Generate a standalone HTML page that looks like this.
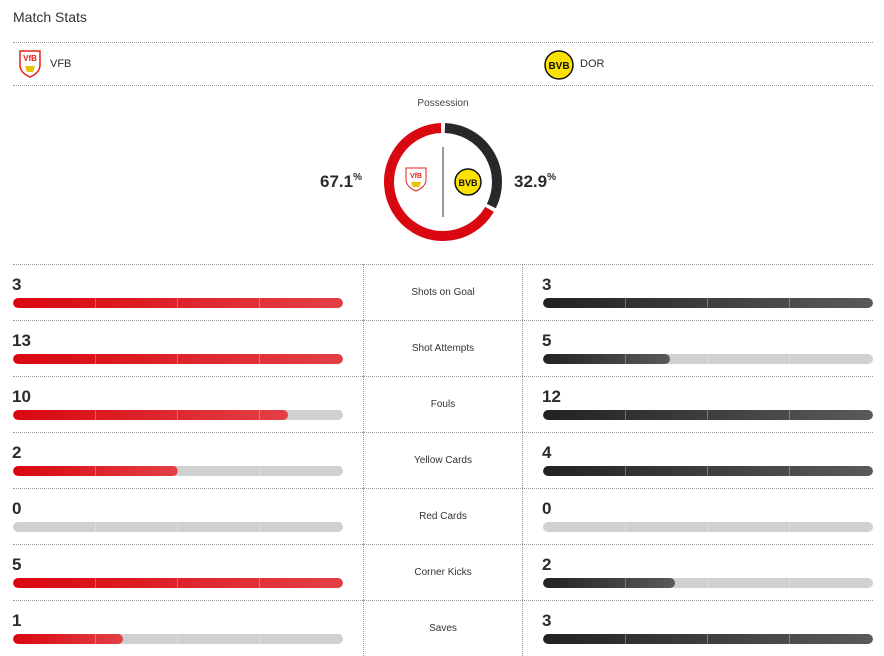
<!DOCTYPE html>
<html><head><meta charset="utf-8">
<style>
body{margin:0;width:884px;height:655px;background:#fff;font-family:"Liberation Sans",sans-serif;color:#2b2b2b;overflow:hidden;position:relative}
.abs{position:absolute}
.hl{position:absolute;left:13px;width:860px;border-top:1px dotted #999;height:0}
.vl{position:absolute;width:0;border-left:1px dotted #999}
.num{position:absolute;font-size:17px;font-weight:bold;color:#2b2b2b}
.lbl{position:absolute;left:363px;width:160px;text-align:center;font-size:10px;color:#333}
.track{position:absolute;height:10px;width:330px;border-radius:5px;background:#d0d0d0;overflow:hidden}
.fill{position:absolute;left:0;top:0;height:10px;border-radius:5px}
.red{background:linear-gradient(90deg,#d9070f,#e24046)}
.blk{background:linear-gradient(90deg,#222,#5a5a5a)}
.seg{position:absolute;top:0;width:1px;height:10px;background:rgba(255,255,255,0.3)}
</style></head><body>
<div class="abs" style="left:13px;top:9px;font-size:14px;color:#333">Match Stats</div>
<div class="hl" style="top:42px"></div>
<svg class="abs" style="left:16px;top:49px" width="28" height="30" viewBox="0 0 28 30"><path d="M4 2h20v14c0 6-5 10-10 12C9 26 4 22 4 16z" fill="#fff" stroke="#e32219" stroke-width="1.5"/><text x="14" y="12" font-size="8" font-weight="bold" fill="#e32219" text-anchor="middle">VfB</text><path d="M9 17h10l-2 6h-6z" fill="#e8c400"/></svg>
<div class="abs" style="left:50px;top:58px;font-size:11px">VFB</div>
<svg class="abs" style="left:544px;top:50px" width="30" height="30"><circle cx="15" cy="15" r="14" fill="#fde100" stroke="#111" stroke-width="1.5"/><text x="15" y="19" font-size="10" font-weight="bold" text-anchor="middle" fill="#111">BVB</text></svg>
<div class="abs" style="left:580px;top:58px;font-size:11px">DOR</div>
<div class="hl" style="top:85px"></div>
<div class="abs" style="left:363px;width:160px;text-align:center;top:98px;font-size:10px;color:#444">Possession</div>
<svg id="donut" class="abs" style="left:0;top:0" width="884" height="260"></svg>
<div class="abs" style="left:320px;top:172px;font-size:17px;font-weight:bold">67.1<span style="font-size:10px;vertical-align:top">%</span></div>
<div class="abs" style="left:514px;top:172px;font-size:17px;font-weight:bold">32.9<span style="font-size:10px;vertical-align:top">%</span></div>
<div id="rows"></div>
<script>
const poss=[67.1,32.9];
const categories=["Shots on Goal","Shot Attempts","Fouls","Yellow Cards","Red Cards","Corner Kicks","Saves"];
const homeValues=[3,13,10,2,0,5,1];
const awayValues=[3,5,12,4,0,2,3];
const svg=document.getElementById('donut');const NS='http://www.w3.org/2000/svg';
const cx=443,cy=182,r=54;
function pt(a){return [cx+r*Math.sin(a),cy-r*Math.cos(a)];}
function arc(a0,a1,col,name){const p0=pt(a0),p1=pt(a1);const large=Math.abs(a1-a0)>Math.PI?1:0;const sw=a1>a0?1:0;
const p=document.createElementNS(NS,'path');p.setAttribute('d',`M${p0[0]} ${p0[1]} A${r} ${r} 0 ${large} ${sw} ${p1[0]} ${p1[1]}`);
p.setAttribute('fill','none');p.setAttribute('stroke',col);p.setAttribute('stroke-width','10');


svg.appendChild(p);}
const tot=poss[0]+poss[1],g=0.035;
const awayA=2*Math.PI*poss[1]/tot;
arc(g,awayA-g,'#282828','away-possession-arc');
arc(-g,awayA-2*Math.PI+g,'#d9070f','home-possession-arc');
const ln=document.createElementNS(NS,'line');ln.setAttribute('x1',443);ln.setAttribute('x2',443);ln.setAttribute('y1',147);ln.setAttribute('y2',217);ln.setAttribute('stroke','#333');


svg.appendChild(ln);
svg.insertAdjacentHTML('beforeend','<g><path d="M406 168h20v12c0 5-5 9-10 11-5-2-10-6-10-11z" fill="#fff" stroke="#e32219"/><text x="416" y="178" font-size="7" font-weight="bold" fill="#e32219" text-anchor="middle">VfB</text><path d="M411 182h10l-2 5h-6z" fill="#e8c400"/></g><g><circle cx="468" cy="182" r="13" fill="#fde100" stroke="#111" stroke-width="1.5"/><text x="468" y="186" font-size="9" font-weight="bold" text-anchor="middle" fill="#111">BVB</text></g>');
const rows=document.getElementById('rows');
const top0=264,rh=56;
function bar(x,y,v,mx,cls,name){const t=document.createElement('div');t.className='track';t.style.left=x+'px';t.style.top=y+'px';


const f=document.createElement('div');f.className='fill '+cls;f.style.width=(mx>0?330*v/mx:0)+'px';


t.appendChild(f);
[82,164,246].forEach(s=>{const d=document.createElement('div');d.className='seg';d.style.left=s+'px';t.appendChild(d);});
rows.appendChild(t);}
function el(cls,name,style,txt){const d=document.createElement('div');d.className=cls;Object.assign(d.style,style);if(txt!==undefined)d.textContent=txt;


rows.appendChild(d);return d;}
categories.forEach((c,i)=>{const y=top0+i*rh;const mx=Math.max(homeValues[i],awayValues[i]);
el('hl','row-divider',{top:y+'px'});
el('vl','column-divider',{left:'363px',top:y+'px',height:rh+'px'});
el('vl','column-divider',{left:'522px',top:y+'px',height:rh+'px'});
const k=c.toLowerCase().replace(/ /g,'-');
el('num','home-'+k+'-value',{left:'12px',top:(y+11)+'px'},homeValues[i]);
el('num','away-'+k+'-value',{left:'542px',top:(y+11)+'px'},awayValues[i]);
el('lbl',k+'-label',{top:(y+23)+'px'},c);
bar(13,y+34,homeValues[i],mx,'red','home-'+k+'-bar');
bar(543,y+34,awayValues[i],mx,'blk','away-'+k+'-bar');
});
</script>
</body></html>
